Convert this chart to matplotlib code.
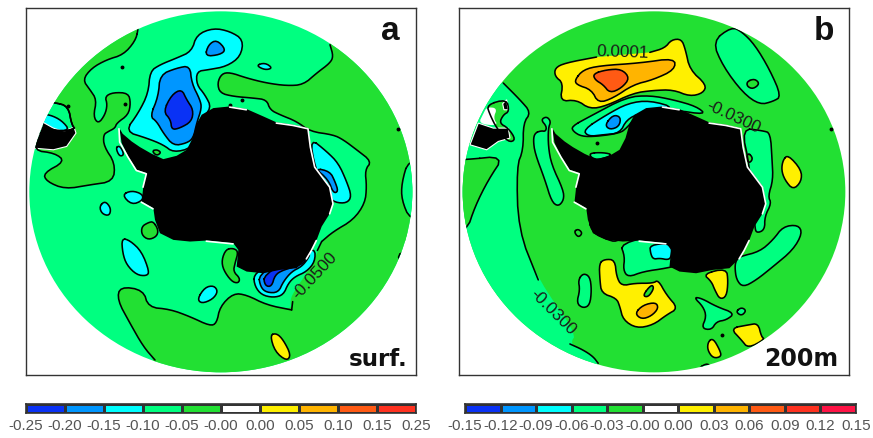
import numpy as np

import matplotlib

matplotlib.use("Agg")

import matplotlib.pyplot as plt
from matplotlib.patches import Ellipse, Polygon

coast = [(358, 385), (368, 402), (395, 425), (420, 442), (455, 462), (490, 478), (530, 468), (560, 450), (578, 415), (590, 372), (605, 345), (640, 325), (690, 320), (740, 328), (790, 350), (830, 368), (880, 375), (925, 385), (932, 440), (945, 500), (990, 560), (1000, 610), (990, 640), (965, 680), (950, 720), (935, 750), (920, 775), (890, 805), (840, 810), (790, 820), (740, 815), (710, 800), (715, 750), (700, 730), (620, 722), (570, 725), (520, 720), (480, 700), (465, 660), (460, 625), (425, 605), (430, 560), (440, 520), (410, 510), (385, 470), (365, 430)]
a_south_america = [(100, 445), (130, 368), (160, 385), (190, 395), (222, 382), (228, 400), (200, 440), (160, 450)]
b_south_america = [(115, 370), (160, 385), (205, 385), (210, 415), (175, 425), (140, 450), (90, 435)]
b_south_america_tip = [(188, 312), (200, 300), (205, 330), (192, 330)]
b_land_gap = [(140, 322), (172, 325), (160, 355), (175, 378), (115, 372), (130, 342)]
coast_fringes = [
    [(358, 385), (360, 425), (385, 470), (410, 510), (440, 520), (430, 560)],
    [(690, 320), (740, 328)],
    [(830, 368), (880, 375), (925, 385), (932, 440), (945, 500), (990, 560), (1000, 610), (990, 640)],
    [(950, 720), (935, 750), (920, 775)],
    [(460, 625), (425, 605)],
    [(620, 722), (700, 730)],
]

# panel a
a_green_east = [(990, 135), (1000, 170), (990, 190), (950, 220), (910, 255), (860, 258), (800, 250), (740, 235), (690, 218), (665, 222), (652, 250), (660, 280), (700, 290), (760, 295), (800, 300), (810, 330), (840, 345), (890, 365), (930, 395), (1000, 405), (1030, 420), (1070, 450), (1115, 485), (1095, 510), (1100, 560), (1095, 610), (1060, 660), (1000, 695), (965, 725)]
a_green_east_outer = [(1400, 725), (1400, 60), (985, 60)]
a_green = [
    [(415, 90), (405, 125), (370, 165), (320, 180), (275, 205), (248, 240), (270, 270), (290, 300), (280, 350), (295, 372), (315, 345), (322, 315), (315, 290), (340, 278), (385, 280), (392, 310), (385, 345), (350, 370), (345, 385), (325, 395), (310, 405), (312, 440), (345, 490), (340, 545), (270, 555), (195, 568), (140, 545), (130, 520), (195, 485), (165, 460), (100, 452), (120, 400), (228, 390), (215, 375), (205, 320), (165, 308), (60, 300), (60, 20), (415, 20)],
    [(460, 665), (475, 690), (470, 710), (445, 720), (425, 705), (425, 680), (445, 668)],
    [(678, 748), (700, 745), (715, 755), (705, 790), (700, 815), (720, 835), (715, 850), (695, 845), (670, 810), (665, 780)],
    [(456, 454), (470, 449), (484, 458), (470, 468)],
]
a_green_south = [(875, 930), (800, 915), (740, 885), (700, 880), (660, 920), (650, 970), (630, 978), (570, 950), (510, 928), (445, 922), (430, 870), (360, 860), (352, 900), (390, 970), (430, 1040), (465, 1080), (465, 1200), (1400, 1200), (1400, 700), (1000, 695), (965, 725), (952, 760), (920, 820), (885, 870), (870, 900)]
a_green_lines = [
    [(875, 930), (800, 915), (740, 885), (700, 880), (660, 920), (650, 970), (630, 978), (570, 950), (510, 928), (445, 922), (430, 870), (360, 860), (352, 900), (390, 970), (430, 1040), (465, 1080)],
    [(875, 930), (878, 905)],
    [(965, 725), (952, 752)],
]
a_light = [
    [(1225, 480), (1205, 550), (1205, 600), (1230, 660), (1300, 660), (1300, 480)],
    [(1205, 750), (1190, 785), (1300, 800), (1300, 750)],
    [(165, 308), (205, 320), (215, 375), (228, 390), (120, 400), (60, 400), (60, 300)],
]
a_cyan = [
    [(375, 395), (415, 340), (445, 280), (450, 215), (480, 195), (530, 175), (575, 155), (590, 105), (640, 85), (690, 95), (730, 120), (722, 170), (680, 200), (625, 210), (590, 215), (590, 255), (615, 285), (635, 325), (600, 360), (590, 400), (575, 445), (520, 458), (490, 435), (440, 415)],
    [(768, 197), (795, 189), (818, 205), (795, 211)],
    [(930, 415), (980, 455), (1015, 490), (1040, 545), (1055, 590), (1040, 610), (1005, 608), (985, 590), (945, 505)],
    [(366, 585), (395, 572), (428, 583), (428, 602), (395, 615)],
    [(298, 620), (315, 603), (333, 625), (328, 648), (306, 642)],
    [(125, 345), (150, 345), (185, 362), (210, 392), (160, 392), (125, 375)],
    [(347, 443), (360, 438), (373, 465), (358, 470)],
    [(365, 715), (390, 722), (425, 755), (448, 815), (440, 828), (410, 825), (380, 795), (368, 760)],
    [(592, 897), (615, 862), (642, 857), (654, 875), (638, 898), (605, 911)],
    [(760, 825), (765, 860), (785, 885), (820, 893), (850, 885), (865, 850), (885, 830), (920, 815), (945, 785), (945, 745), (900, 760), (800, 800)],
]
a_sky = [
    [(450, 350), (475, 290), (480, 225), (530, 205), (570, 198), (575, 250), (600, 300), (605, 325), (590, 370), (580, 415), (560, 430), (520, 438), (490, 400), (470, 365)],
    [(615, 170), (625, 135), (650, 120), (678, 150), (660, 165)],
    [(945, 505), (990, 515), (1005, 545), (1015, 575), (1000, 580), (985, 540)],
    [(775, 825), (782, 862), (800, 878), (835, 878), (850, 845), (875, 815), (905, 800), (925, 775), (930, 760), (850, 780)],
]
a_blue = [
    [(490, 335), (515, 285), (545, 268), (560, 300), (580, 330), (575, 365), (540, 385), (515, 390), (512, 360)],
    [(790, 825), (795, 858), (815, 860), (825, 825), (850, 810), (905, 795), (920, 775), (900, 760)],
]
a_yellow = [[(810, 1005), (830, 1000), (850, 1020), (873, 1065), (860, 1083), (825, 1055)]]
a_dots = [(365, 203), (375, 312), (725, 302), (690, 315), (1195, 388), (205, 318)]

# panel b
b_light_west = [(190, 250), (240, 300), (273, 338), (250, 370), (250, 450), (230, 500), (235, 690), (295, 840), (410, 1000), (390, 1032), (430, 1050), (460, 1070), (475, 1090), (475, 1200), (0, 1200), (0, 260), (190, 250)]
b_light_lines = [
    [(190, 250), (240, 300), (273, 338), (250, 370), (250, 450), (230, 500), (235, 690), (295, 840)],
    [(390, 1032), (430, 1050), (460, 1070), (475, 1090)],
]
b_green_wedge = [(75, 480), (193, 468), (145, 540), (105, 620), (80, 695), (0, 700), (0, 480)]
b_green_sa = [(140, 315), (200, 298), (208, 335), (190, 345), (178, 370), (205, 385), (228, 420), (205, 428), (170, 385), (150, 345)]
b_light = [
    [(818, 125), (875, 82), (905, 95), (945, 135), (990, 210), (1025, 290), (1000, 305), (960, 315), (910, 280), (850, 200)],
    [(285, 400), (303, 393), (317, 395), (320, 380), (303, 360), (320, 350), (333, 365), (325, 385), (325, 440), (335, 495), (370, 570), (372, 600), (355, 620), (335, 605), (315, 540), (285, 460), (280, 420)],
    [(395, 380), (450, 350), (560, 292), (630, 287), (700, 300), (770, 320), (800, 345), (700, 330), (600, 340), (560, 385), (540, 400), (470, 410), (425, 410), (400, 395)],
    [(448, 460), (490, 458), (520, 465), (480, 480), (455, 475)],
    [(905, 385), (970, 393), (992, 400), (997, 480), (1000, 540), (985, 590), (995, 610), (975, 650), (975, 690), (950, 700), (945, 680), (930, 500)],
    [(890, 780), (900, 770), (960, 755), (1000, 720), (1030, 680), (1075, 675), (1088, 700), (1060, 750), (1000, 800), (950, 840), (910, 862), (890, 840), (885, 800)],
    [(540, 730), (555, 770), (550, 810), (565, 832), (610, 815), (680, 805), (740, 790), (680, 700)],
    [(445, 660), (460, 700), (500, 718), (530, 727), (560, 700), (470, 640)],
    [(415, 840), (430, 820), (450, 830), (455, 870), (450, 915), (430, 925), (410, 910), (420, 870)],
    [(762, 892), (785, 895), (830, 920), (885, 940), (860, 960), (830, 965), (815, 990), (785, 985), (800, 950), (790, 920)],
    [(888, 935), (905, 922), (920, 932), (905, 948)],
    [(775, 1105), (805, 1088), (815, 1110), (790, 1125)],
]
b_green_inner = [
    [(922, 245), (945, 237), (960, 252), (940, 268), (922, 260)],
    [(925, 458), (940, 475), (930, 490), (920, 480)],
    [(402, 695), (415, 687), (428, 700), (415, 713)],
]
b_cyan = [
    [(430, 390), (500, 345), (565, 310), (630, 302), (710, 325), (600, 340), (560, 360), (540, 400), (490, 405), (445, 410)],
    [(630, 735), (695, 730), (695, 770), (685, 780), (660, 775), (640, 778), (632, 760)],
]
b_sky = [[(495, 375), (520, 345), (543, 352), (538, 380), (510, 390)]]
# open run: the gap between last and first point holds the label
b_yellow_top = [(630, 158), (675, 145), (695, 120), (725, 118), (737, 150), (750, 210), (800, 255), (790, 280), (750, 290), (700, 270), (640, 272), (580, 280), (500, 318), (450, 328), (410, 300), (360, 305), (370, 250), (345, 230), (345, 205), (375, 190), (470, 172)]
b_yellow = [
    [(1030, 480), (1045, 465), (1085, 510), (1085, 545), (1060, 570), (1035, 540), (1025, 510)],
    [(478, 790), (495, 778), (525, 780), (530, 830), (545, 858), (585, 850), (640, 850), (655, 840), (680, 885), (715, 925), (680, 945), (640, 975), (590, 985), (550, 960), (540, 920), (530, 895), (485, 880), (480, 840)],
    [(790, 822), (860, 805), (865, 845), (860, 890), (840, 898), (825, 870), (815, 845)],
    [(872, 985), (925, 975), (955, 970), (965, 1010), (975, 1018), (925, 1045), (905, 1020)],
    [(805, 1025), (820, 1015), (840, 1050), (845, 1070), (820, 1075), (803, 1050)],
]
b_sliver = [(608, 887), (635, 853), (643, 865), (625, 892)]
b_orange = [
    [(405, 240), (430, 210), (480, 198), (600, 190), (705, 175), (705, 210), (640, 240), (580, 255), (520, 295), (475, 310), (455, 270), (410, 255)],
    [(585, 940), (610, 915), (648, 907), (656, 925), (635, 948), (605, 958)],
]
b_red = [[(460, 222), (500, 210), (545, 208), (570, 235), (545, 265), (510, 280), (490, 255), (465, 240)]]
b_dots = [(1175, 388), (470, 430), (848, 1005)]

# colour bars
a_bar_labels = ["-0.25", "-0.20", "-0.15", "-0.10", "-0.05", "-0.00", "0.00", "0.05", "0.10", "0.15", "0.25"]
b_bar_labels = ["-0.15", "-0.12", "-0.09", "-0.06", "-0.03", "-0.00", "0.00", "0.03", "0.06", "0.09", "0.12", "0.15"]

BLUE = "#0a32f5"
SKY = "#0096ff"
CYAN = "#00ffff"
LIGHT = "#00ff80"
GREEN = "#22e033"
YELLOW = "#fff000"
ORANGE = "#ffb400"
DARK_ORANGE = "#ff5a14"
RED = "#ff3220"
CRIMSON = "#ff1446"

W, H = 873, 438


def px_axes(fig, left, top, right, bottom):
    return fig.add_axes([left / W, 1 - bottom / H, (right - left) / W, (bottom - top) / H])


def smooth(points, closed=True, iterations=2):
    pts = np.array(points, dtype=float)
    for _ in range(iterations):
        nxt = np.roll(pts, -1, axis=0) if closed else pts[1:]
        cur = pts if closed else pts[:-1]
        new = np.empty((2 * len(cur), 2))
        new[0::2] = 0.75 * cur + 0.25 * nxt
        new[1::2] = 0.25 * cur + 0.75 * nxt
        if not closed:
            new = np.vstack([pts[0], new, pts[-1]])
        pts = new
    return pts


def fill_region(ax, clip, points, color, closed=True, edge=True):
    pts = smooth(points, closed)
    patch = Polygon(pts, closed=True, facecolor=color, edgecolor="none")
    ax.add_patch(patch)
    patch.set_clip_path(clip)
    if edge:
        draw_line(ax, clip, pts if not closed else np.vstack([pts, pts[0]]))


def draw_line(ax, clip, pts, color="black", lw=1.15):
    line, = ax.plot(pts[:, 0], pts[:, 1], color=color, lw=lw, solid_capstyle="round")
    line.set_clip_path(clip)


def draw_land(ax, clip, shift, south_america):
    for fringe in coast_fringes:
        pts = np.array(fringe, dtype=float) - [shift, 0]
        draw_line(ax, clip, pts + [-1, 2], color="white", lw=1.2)
    land = np.array(coast, dtype=float) - [shift, 0]
    ax.add_patch(Polygon(land, closed=True, facecolor="black", edgecolor="none"))
    for part in south_america:
        patch = Polygon(part, closed=True, facecolor="black", edgecolor="white", lw=0.8)
        ax.add_patch(patch)
        patch.set_clip_path(clip)


def map_axes(fig, left, right, xlim, centre, base):
    ax = px_axes(fig, left, 8, right, 375)
    ax.set_xlim(*xlim)
    ax.set_ylim(1125, 25)
    ax.set_xticks([])
    ax.set_yticks([])
    for spine in ax.spines.values():
        spine.set_linewidth(1.0)
        spine.set_color("#333333")
    disc = Ellipse((centre, 576), 1149, 1082, facecolor=base, edgecolor="none")
    ax.add_patch(disc)
    return ax, disc


def draw_dots(ax, dots):
    xs, ys = zip(*dots)
    ax.plot(xs, ys, ls="none", marker="o", ms=1.8, color="black")


def contour_label(ax, x, y, text, rotation):
    ax.text(x, y, text, rotation=rotation, rotation_mode="anchor", ha="center", va="center",
            fontsize=12.3, family="Liberation Sans", color="#1a1a1a")


def color_bar(fig, left, right, labels, colors):
    ax = px_axes(fig, left, 403.5, right, 412.5)
    edges = np.arange(len(colors) + 1)
    ax.pcolormesh(edges, [0, 1], np.arange(len(colors))[None, :],
                  cmap=matplotlib.colors.ListedColormap(colors), edgecolors="#333333", linewidth=0.8)
    ax.set_yticks([])
    ax.set_xticks(edges)
    ax.set_xticklabels(labels, fontsize=11, family="Liberation Sans", color="#555555")
    ax.tick_params(axis="x", length=0, pad=5)
    for spine in ax.spines.values():
        spine.set_linewidth(1.2)
        spine.set_color("#333333")


def panel_a(fig):
    ax, disc = map_axes(fig, 26, 416, (78, 1248), 662.5, LIGHT)
    fill_region(ax, disc, a_green_south, GREEN, edge=False)
    for line in a_green_lines:
        draw_line(ax, disc, smooth(line, closed=False))
    fill_region(ax, disc, a_green_east + a_green_east_outer, GREEN, closed=False, edge=False)
    draw_line(ax, disc, smooth(a_green_east, closed=False))
    for regions, color in ((a_green, GREEN), (a_light, LIGHT), (a_cyan, CYAN), (a_sky, SKY),
                           (a_blue, BLUE), (a_yellow, YELLOW)):
        for region in regions:
            fill_region(ax, disc, region, color)
    draw_dots(ax, a_dots)
    draw_land(ax, disc, 0, [a_south_america])
    contour_label(ax, 945, 828, "-0.0500", 47)
    ax.text(1172, 122, "a", fontsize=24, fontweight="bold", family="Liberation Sans", ha="center", va="baseline", color="#111111")
    ax.text(1222, 1098, "surf.", fontsize=16.6, fontweight="bold", ha="right", va="baseline", color="#111111")


def panel_b(fig):
    ax, disc = map_axes(fig, 459, 849, (57, 1228), 642.5, GREEN)
    fill_region(ax, disc, b_light_west, LIGHT, edge=False)
    for line in b_light_lines:
        draw_line(ax, disc, smooth(line, closed=False))
    fill_region(ax, disc, b_green_wedge, GREEN)
    fill_region(ax, disc, b_green_sa, GREEN)
    fill_region(ax, disc, b_yellow_top, YELLOW, closed=False)
    for regions, color in ((b_light, LIGHT), (b_green_inner, GREEN), (b_cyan, CYAN), (b_sky, SKY),
                           (b_yellow, YELLOW), ([b_sliver], GREEN), (b_orange, ORANGE), (b_red, DARK_ORANGE)):
        for region in regions:
            fill_region(ax, disc, region, color)
    draw_dots(ax, b_dots)
    fill_region(ax, disc, b_land_gap, "white", edge=False)
    draw_land(ax, disc, 21, [b_south_america, b_south_america_tip])
    contour_label(ax, 880, 352, "-0.0300", -25)
    contour_label(ax, 340, 938, "-0.0300", -45)
    contour_label(ax, 548, 158, "0.0001", -2)
    ax.text(1152, 122, "b", fontsize=24, fontweight="bold", family="Liberation Sans", ha="center", va="baseline", color="#111111")
    ax.text(1197, 1098, "200m", fontsize=17, fontweight="bold", ha="right", va="baseline", color="#111111")


def main():
    fig = plt.figure(figsize=(W / 100, H / 100), dpi=100)

    panel_a(fig)
    panel_b(fig)

    color_bar(fig, 26, 416, a_bar_labels,
              [BLUE, SKY, CYAN, LIGHT, GREEN, "white", YELLOW, ORANGE, DARK_ORANGE, RED])
    color_bar(fig, 465, 856, b_bar_labels,
              [BLUE, SKY, CYAN, LIGHT, GREEN, "white", YELLOW, ORANGE, DARK_ORANGE, RED, CRIMSON])

    fig.savefig("out.png", dpi=100)


if __name__ == "__main__":
    main()
